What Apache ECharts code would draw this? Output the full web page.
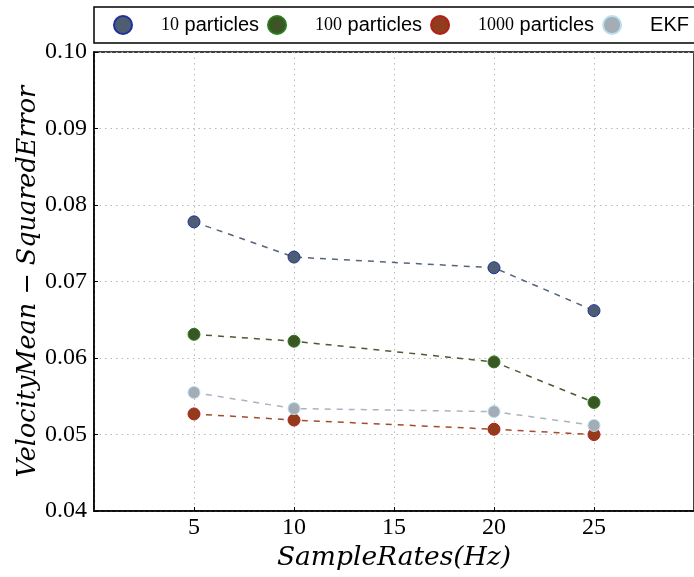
<!DOCTYPE html>
<html>
<head>
<meta charset="utf-8">
<script src="https://cdn.jsdelivr.net/npm/echarts@6/dist/echarts.min.js"></script>
<style>
  html, body { margin: 0; padding: 0; background: #fff; }
  #chart { width: 694px; height: 577px; }
</style>
</head>
<body>
<div id="chart"></div>
<script>
// Sample rates (Hz) and the velocity MSE for each filter
const sampleRates = [5, 10, 20, 25];
const mse10 = [0.0778, 0.0732, 0.0718, 0.0662];
const mse100 = [0.0631, 0.0622, 0.0595, 0.0542];
const mse1000 = [0.0527, 0.0519, 0.0507, 0.0500];
const mseEKF = [0.0555, 0.0534, 0.0530, 0.0512];
const seriesNames = ['10 particles', '100 particles', '1000 particles', 'EKF'];
const yTicks = [0.04, 0.05, 0.06, 0.07, 0.08, 0.09, 0.10];

const serif = '"Liberation Serif", "DejaVu Serif", serif';
const mathSerif = '"DejaVu Serif", "Liberation Serif", serif';
const sans = '"Liberation Sans", "DejaVu Sans", sans-serif';

const styles = [
  { fill: '#4e5e72', edge: '#1f2f9c', line: '#55657a' },
  { fill: '#3b5624', edge: '#2a7d1c', line: '#4b5a36' },
  { fill: '#923b1d', edge: '#b3201a', line: '#a34b2b' },
  { fill: '#a4acb6', edge: '#b9e0ee', line: '#a9b3c1' }
];
const values = [mse10, mse100, mse1000, mseEKF];

const series = seriesNames.map((name, i) => ({
  name: name,
  type: 'line',
  data: sampleRates.map((x, j) => [x, values[i][j]]),
  symbol: 'circle',
  symbolSize: 12,
  z: 2 + i,
  lineStyle: { color: styles[i].line, width: 1.5, type: [6, 6] },
  itemStyle: { color: styles[i].fill, borderColor: styles[i].edge, borderWidth: 1 },
  emphasis: { disabled: true },
  animation: false
}));

const chart = echarts.init(document.getElementById('chart'));
chart.setOption({
  animation: false,
  grid: {
    left: 94, top: 52, right: -6, bottom: 63,
    show: true, borderColor: '#000', borderWidth: 1.5, backgroundColor: 'transparent'
  },
  legend: {
    data: seriesNames,
    left: 94, top: 7,
    width: 640,
    orient: 'horizontal',
    icon: 'circle',
    itemWidth: 18, itemHeight: 18,
    itemGap: 8,
    padding: [8, 8, 8, 19],
    borderColor: '#000', borderWidth: 1.5,
    backgroundColor: '#fff',
    formatter: function (name) {
      const m = name.match(/^(\d+) (.*)$/);
      if (m) return '{gap|}{num|' + m[1] + '} {txt|' + m[2] + '}';
      return '{gap|}{txt|' + name + '}';
    },
    textStyle: {
      fontFamily: sans, fontSize: 20,
      rich: {
        gap: { width: 24 },
        num: { fontFamily: serif, fontSize: 18, color: '#000' },
        txt: { fontFamily: sans, fontSize: 20, color: '#000' }
      }
    }
  },
  xAxis: {
    type: 'value',
    min: 0, max: 30, interval: 5,
    name: 'SampleRates(Hz)',
    nameLocation: 'middle',
    nameGap: 24,
    nameTextStyle: { fontFamily: mathSerif, fontStyle: 'italic', fontSize: 26.5, color: '#000', verticalAlign: 'top' },
    axisLine: { show: true, onZero: false, lineStyle: { color: '#000', width: 1.5 } },
    axisTick: { show: true, inside: true, length: 4, lineStyle: { color: '#000' } },
    axisLabel: {
      showMinLabel: false, showMaxLabel: false,
      margin: 5,
      fontFamily: serif, fontSize: 24, color: '#000'
    },
    splitLine: { show: true, lineStyle: { color: '#b8b8b8', type: [1.5, 4], width: 1 } }
  },
  yAxis: {
    type: 'value',
    min: yTicks[0], max: yTicks[yTicks.length - 1], interval: 0.01,
    name: 'VelocityMean − SquaredError',
    nameLocation: 'middle',
    nameRotate: 90,
    nameGap: 53,
    nameMoveOverlap: false,
    nameTextStyle: { fontFamily: mathSerif, fontStyle: 'italic', fontSize: 25.5, color: '#000' },
    axisLine: { show: true, lineStyle: { color: '#000', width: 1.5 } },
    axisTick: { show: true, inside: true, length: 4, lineStyle: { color: '#000' } },
    axisLabel: {
      margin: 7,
      fontFamily: serif, fontSize: 24, color: '#000',
      formatter: v => v.toFixed(2)
    },
    splitLine: { show: true, lineStyle: { color: '#b8b8b8', type: [1.5, 4], width: 1 } }
  },
  series: series
});
</script>
</body>
</html>
